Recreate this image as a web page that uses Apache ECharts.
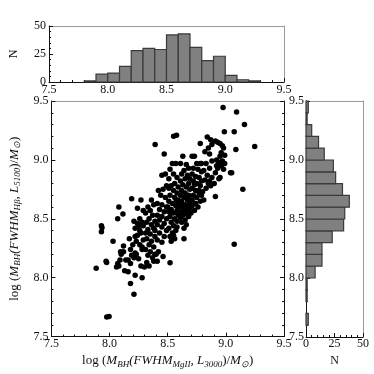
<!DOCTYPE html>
<html>
<head>
<meta charset="utf-8">
<script src="https://cdn.jsdelivr.net/npm/echarts@6/dist/echarts.min.js"></script>
<style>
  html, body { margin: 0; padding: 0; background: #fff; }
  #chart { width: 374px; height: 374px; }
</style>
</head>
<body>
<div id="chart"></div>
<script>
// histogram bins (0.1 dex wide, from 7.5 to 9.5)
const binEdges = [7.5, 7.6, 7.7, 7.8, 7.9, 8.0, 8.1, 8.2, 8.3, 8.4, 8.5, 8.6, 8.7, 8.8, 8.9, 9.0, 9.1, 9.2, 9.3, 9.4, 9.5];
const countsMgII = [0, 0, 0, 1, 7, 8, 14, 28, 30, 29, 42, 43, 31, 19, 23, 6, 2, 1, 0, 0];
const countsHb = [0, 2, 0, 1, 1, 8, 14, 14, 23, 33, 34, 38, 32, 26, 24, 16, 11, 5, 1, 2];

const massTicks = [7.5, 8.0, 8.5, 9.0, 9.5];
const countTicks = [0, 25, 50];

// [log M(MgII), log M(Hbeta)]
const massPairs = [
  [7.885, 8.08],
  [7.93, 8.44], [7.935, 8.425], [7.93, 8.39], [7.97, 8.14], [7.975, 8.13], [7.976, 7.666], [7.996, 7.67],
  [8.03, 8.31], [8.07, 8.12], [8.08, 8.10], [8.08, 8.60], [8.07, 8.50], [8.06, 8.09], [8.09, 8.15], [8.095, 8.22],
  [8.115, 8.54], [8.19, 8.67], [8.18, 7.95], [8.12, 8.27], [8.10, 8.20], [8.14, 8.15], [8.16, 8.15],
  [8.13, 8.06], [8.16, 8.05], [8.18, 8.12], [8.19, 8.19], [8.18, 8.24], [8.17, 8.33], [8.12, 8.22],
  [8.27, 8.66], [8.24, 8.59], [8.29, 8.57], [8.22, 8.02], [8.28, 8.00], [8.21, 7.86], [8.20, 8.28],
  [8.22, 8.35], [8.22, 8.42], [8.24, 8.46], [8.22, 8.21], [8.23, 8.20], [8.26, 8.28], [8.24, 8.36],
  [8.27, 8.38], [8.28, 8.26], [8.29, 8.32], [8.29, 8.44], [8.28, 8.24], [8.27, 8.10], [8.25, 8.44],
  [8.21, 8.48], [8.26, 8.50], [8.23, 8.31], [8.28, 8.47], [8.25, 8.16], [8.21, 8.17], [8.26, 8.40],
  [8.392, 9.13], [8.36, 8.66], [8.38, 8.14], [8.34, 8.10], [8.33, 8.60], [8.38, 8.62], [8.35, 8.57],
  [8.31, 8.55], [8.37, 8.53], [8.34, 8.50], [8.39, 8.48], [8.32, 8.47], [8.36, 8.45], [8.38, 8.42],
  [8.33, 8.41], [8.31, 8.38], [8.35, 8.37], [8.39, 8.35], [8.32, 8.33], [8.36, 8.31], [8.34, 8.28],
  [8.38, 8.26], [8.31, 8.24], [8.35, 8.22], [8.39, 8.20], [8.33, 8.19], [8.37, 8.17], [8.32, 8.13],
  [8.30, 8.09], [8.39, 8.40],
  [8.47, 9.05], [8.41, 8.14], [8.48, 8.88], [8.45, 8.87], [8.49, 8.78], [8.46, 8.75], [8.42, 8.74],
  [8.44, 8.70], [8.48, 8.68], [8.41, 8.63], [8.45, 8.62], [8.49, 8.60], [8.43, 8.58], [8.47, 8.56],
  [8.41, 8.53], [8.45, 8.52], [8.49, 8.50], [8.43, 8.49], [8.47, 8.46], [8.41, 8.45], [8.45, 8.43],
  [8.49, 8.40], [8.43, 8.38], [8.47, 8.35], [8.41, 8.32], [8.45, 8.30], [8.42, 8.22], [8.46, 8.18],
  [8.40, 8.20],
  [8.576, 9.21], [8.551, 9.20], [8.52, 8.127], [8.54, 8.97], [8.57, 8.97], [8.52, 8.92], [8.55, 8.88],
  [8.58, 8.85], [8.51, 8.84], [8.56, 8.80], [8.53, 8.78], [8.59, 8.77], [8.51, 8.76], [8.55, 8.74],
  [8.58, 8.72], [8.52, 8.70], [8.56, 8.68], [8.59, 8.66], [8.51, 8.65], [8.54, 8.63], [8.57, 8.61],
  [8.53, 8.58], [8.58, 8.57], [8.51, 8.56], [8.55, 8.55], [8.59, 8.53], [8.52, 8.52], [8.56, 8.50],
  [8.58, 8.48], [8.53, 8.47], [8.55, 8.44], [8.51, 8.42], [8.57, 8.40], [8.54, 8.38], [8.52, 8.35],
  [8.56, 8.33], [8.58, 8.43], [8.53, 8.31], [8.55, 8.36], [8.59, 8.60], [8.50, 8.60], [8.57, 8.64],
  [8.64, 8.33], [8.63, 9.03], [8.66, 8.96], [8.61, 8.97], [8.68, 8.93], [8.64, 8.91], [8.62, 8.88],
  [8.67, 8.87], [8.69, 8.84], [8.65, 8.84], [8.61, 8.82], [8.68, 8.80], [8.63, 8.79], [8.66, 8.77],
  [8.69, 8.75], [8.62, 8.74], [8.65, 8.72], [8.68, 8.70], [8.61, 8.70], [8.64, 8.68], [8.67, 8.66],
  [8.69, 8.64], [8.62, 8.65], [8.65, 8.62], [8.68, 8.61], [8.61, 8.60], [8.64, 8.58], [8.67, 8.57],
  [8.69, 8.59], [8.62, 8.56], [8.66, 8.54], [8.63, 8.53], [8.68, 8.52], [8.61, 8.51], [8.65, 8.49],
  [8.69, 8.55], [8.62, 8.47], [8.66, 8.45], [8.64, 8.42], [8.67, 8.60], [8.60, 8.63], [8.63, 8.62],
  [8.68, 8.68],
  [8.78, 9.14], [8.71, 9.03], [8.73, 9.03], [8.75, 8.97], [8.78, 8.97], [8.72, 8.93], [8.76, 8.92],
  [8.79, 8.90], [8.71, 8.88], [8.74, 8.86], [8.77, 8.85], [8.79, 8.82], [8.72, 8.82], [8.75, 8.80],
  [8.78, 8.78], [8.71, 8.76], [8.74, 8.74], [8.77, 8.72], [8.79, 8.70], [8.72, 8.70], [8.75, 8.68],
  [8.71, 8.66], [8.78, 8.65], [8.74, 8.63], [8.71, 8.61], [8.76, 8.60], [8.73, 8.57], [8.70, 8.55],
  [8.77, 8.74], [8.73, 8.79], [8.79, 8.97],
  [8.84, 9.195], [8.87, 9.17], [8.88, 9.13], [8.85, 9.10], [8.82, 9.07], [8.86, 9.05], [8.88, 8.99],
  [8.83, 8.97], [8.86, 8.93], [8.81, 8.91], [8.84, 8.87], [8.88, 8.85], [8.82, 8.83], [8.85, 8.80],
  [8.87, 8.78], [8.83, 8.76], [8.80, 8.73], [8.81, 8.66], [8.86, 8.82],
  [8.976, 9.444], [8.987, 9.24], [8.95, 8.85], [8.91, 8.69], [8.91, 9.16], [8.93, 9.15], [8.95, 9.14],
  [8.97, 9.12], [8.98, 9.10], [8.96, 9.06], [8.99, 9.04], [8.95, 9.03], [8.92, 9.00], [8.94, 8.98],
  [8.97, 8.99], [8.99, 8.97], [8.96, 8.95], [8.93, 8.93], [8.98, 8.92], [8.91, 8.89], [8.94, 8.84],
  [8.90, 8.80], [8.92, 8.95],
  [9.092, 9.407], [9.072, 9.24], [9.086, 9.088], [9.072, 8.285], [9.04, 8.89], [9.05, 8.89],
  [9.16, 9.30], [9.146, 8.75], [9.248, 9.113]
];

const FONT = "'Liberation Serif', 'Times New Roman', serif";
const BAR_FILL = '#808080';
const BAR_EDGE = '#3a3a3a';

const chart = echarts.init(document.getElementById('chart'));

// one bar per bin, as [start, end, count]
const binsOf = (counts) => counts.map((c, i) => [binEdges[i], binEdges[i + 1], c]);

const labelStyle = { fontFamily: FONT, fontSize: 12, color: '#111' };
const nameRich = {
  n: { fontFamily: FONT, fontSize: 13, color: '#111', lineHeight: 16 },
  i: { fontFamily: FONT, fontSize: 13, fontStyle: 'italic', color: '#111', lineHeight: 16 },
  s: { fontFamily: FONT, fontSize: 9, fontStyle: 'italic', color: '#111', verticalAlign: 'bottom', lineHeight: 8 }
};

// black axis with inward ticks
const solidAxis = (extra) => Object.assign({
  type: 'value',
  axisLine: { show: true, onZero: false, lineStyle: { color: '#111', width: 1 } },
  axisTick: { show: true, inside: true, length: 4, lineStyle: { color: '#111' } },
  minorTick: { show: true, splitNumber: 5, length: 2, lineStyle: { color: '#111' } },
  splitLine: { show: false },
  axisLabel: Object.assign({ margin: 3 }, labelStyle)
}, extra);

// grey frame side without ticks or labels
const greyAxis = (extra) => Object.assign({
  type: 'value',
  axisLine: { show: true, onZero: false, lineStyle: { color: '#9a9a9a', width: 1 } },
  axisTick: { show: false },
  axisLabel: { show: false },
  splitLine: { show: false }
}, extra);

const massLabel = (v) => v.toFixed(1);

const option = {
  animation: false,
  backgroundColor: '#fff',
  grid: [
    { left: 49, top: 26, width: 235, height: 56 },
    { left: 49, top: 101, width: 235, height: 236 },
    { left: 306, top: 101, width: 57, height: 236 }
  ],
  xAxis: [
    solidAxis({ gridIndex: 0, min: 7.5, max: 9.5, interval: 0.5, position: 'bottom',
      axisLabel: Object.assign({ margin: 2, formatter: massLabel }, labelStyle) }),
    greyAxis({ gridIndex: 0, min: 7.5, max: 9.5, position: 'top' }),
    solidAxis({ gridIndex: 1, min: 7.5, max: 9.5, interval: 0.5, position: 'bottom',
      axisLabel: Object.assign({ margin: 1, formatter: massLabel }, labelStyle),
      name: 'log ({i|M}{s|BH}{i|(FWHM}{s|MgII}{i|, L}{s|3000}{n|)/}{i|M}{s|\u2299}{n|)}',
      nameLocation: 'middle', nameGap: 7,
      nameTextStyle: { rich: nameRich, fontFamily: FONT, fontSize: 13, color: '#111' } }),
    greyAxis({ gridIndex: 1, min: 7.5, max: 9.5, position: 'top' }),
    solidAxis({ gridIndex: 2, min: 0, max: 50, interval: 25, position: 'bottom',
      axisLabel: Object.assign({ margin: 1 }, labelStyle),
      name: 'N', nameLocation: 'middle', nameGap: 13,
      nameTextStyle: { fontFamily: FONT, fontSize: 12, color: '#111' } }),
    greyAxis({ gridIndex: 2, min: 0, max: 50, position: 'top' })
  ],
  yAxis: [
    solidAxis({ gridIndex: 0, min: 0, max: 50, interval: 25, position: 'left',
      name: 'N', nameLocation: 'middle', nameGap: 29, nameRotate: 90,
      nameTextStyle: { fontFamily: FONT, fontSize: 12, color: '#111' } }),
    greyAxis({ gridIndex: 0, min: 0, max: 50, position: 'right' }),
    solidAxis({ gridIndex: 1, min: 7.5, max: 9.5, interval: 0.5, position: 'left',
      axisLabel: Object.assign({ margin: 3, formatter: massLabel }, labelStyle),
      name: 'log ({i|M}{s|BH}{i|(FWHM}{s|H\u03b2}{i|, L}{s|5100}{n|)/}{i|M}{s|\u2299}{n|)}',
      nameLocation: 'middle', nameGap: 22, nameRotate: 90,
      nameTextStyle: { rich: nameRich, fontFamily: FONT, fontSize: 13, color: '#111' } }),
    solidAxis({ gridIndex: 1, min: 7.5, max: 9.5, interval: 0.5, position: 'right',
      axisLabel: { show: false } }),
    solidAxis({ gridIndex: 2, min: 7.5, max: 9.5, interval: 0.5, position: 'left',
      axisLabel: Object.assign({ margin: 2, formatter: massLabel }, labelStyle) }),
    greyAxis({ gridIndex: 2, min: 7.5, max: 9.5, position: 'right' })
  ],
  series: [
    {
      type: 'custom',
      xAxisIndex: 0,
      yAxisIndex: 0,
      data: binsOf(countsMgII),
      encode: { x: [0, 1], y: 2 },
      renderItem: (params, api) => {
        if (api.value(2) <= 0) return null;
        const p0 = api.coord([api.value(0), api.value(2)]);
        const p1 = api.coord([api.value(1), 0]);
        return {
          type: 'rect',
          shape: { x: p0[0], y: p0[1], width: p1[0] - p0[0], height: p1[1] - p0[1] },
          style: { fill: BAR_FILL, stroke: BAR_EDGE, lineWidth: 1.2 }
        };
      }
    },
    {
      type: 'scatter',
      xAxisIndex: 2,
      yAxisIndex: 2,
      data: massPairs,
      symbol: 'circle',
      symbolSize: 5.5,
      itemStyle: { color: '#000', opacity: 1 }
    },
    {
      type: 'custom',
      xAxisIndex: 4,
      yAxisIndex: 4,
      data: binsOf(countsHb),
      encode: { y: [0, 1], x: 2 },
      renderItem: (params, api) => {
        if (api.value(2) <= 0) return null;
        const p0 = api.coord([0, api.value(1)]);
        const p1 = api.coord([api.value(2), api.value(0)]);
        return {
          type: 'rect',
          shape: { x: p0[0], y: p0[1], width: p1[0] - p0[0], height: p1[1] - p0[1] },
          style: { fill: BAR_FILL, stroke: BAR_EDGE, lineWidth: 1.2 }
        };
      }
    }
  ]
};

chart.setOption(option);
</script>
</body>
</html>
